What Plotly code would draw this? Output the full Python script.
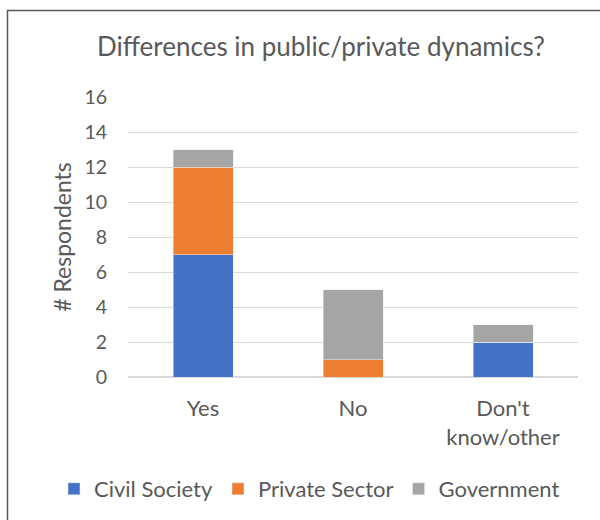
import plotly.graph_objects as go

categories = ["Yes", "No", "Don't<br>know/other"]
civil_society = [7, 0, 2]
private_sector = [5, 1, 0]
government = [1, 4, 1]
y_ticks = [0, 2, 4, 6, 8, 10, 12, 14, 16]

FONT = "Lato"
TXT = "#595959"

fig = go.Figure()
fig.add_trace(go.Bar(name="Civil Society", x=categories, y=civil_society, marker_color="#4472C4"))
fig.add_trace(go.Bar(name="Private Sector", x=categories, y=private_sector, marker_color="#ED7D31"))
fig.add_trace(go.Bar(name="Government", x=categories, y=government, marker_color="#A5A5A5"))

L, R, T, B = 128, 22, 97, 143
W, H = 600, 520
pw, ph = W - L - R, H - T - B

def px_x(p):
    return (p - L) / pw

def px_y(p):
    return (H - B - p) / ph

fig.update_layout(
    width=W, height=H,
    barmode="stack", bargap=0.6,
    paper_bgcolor="white", plot_bgcolor="white",
    margin=dict(l=L, r=R, t=T, b=B, autoexpand=False),
    font=dict(family=FONT, color=TXT, size=20),
    title=dict(text="Differences in public/private dynamics?", x=px_x(321), xref="paper",
               xanchor="center", y=1 - 47 / H, yanchor="middle",
               font=dict(size=26, color=TXT, family=FONT)),
    xaxis=dict(showgrid=False, showline=False, ticks="outside", ticklen=12,
               tickcolor="rgba(0,0,0,0)", tickfont=dict(size=22, color=TXT)),
    yaxis=dict(range=[0, 16], tickvals=y_ticks, showgrid=True, gridcolor="#D9D9D9",
               gridwidth=1, zeroline=True, zerolinecolor="#D9D9D9", showline=False,
               ticks="outside", ticklen=16, tickcolor="rgba(0,0,0,0)",
               tickfont=dict(size=19.5, color=TXT),
               title=dict(text="# Respondents", font=dict(size=23, color=TXT), standoff=6)),
    legend=dict(orientation="h", xref="paper", yref="paper",
                x=px_x(54), xanchor="left", y=px_y(489), yanchor="middle",
                font=dict(size=22, color=TXT), traceorder="normal", itemwidth=30),
    shapes=[dict(type="rect", xref="paper", yref="paper",
                 x0=px_x(7.5), x1=px_x(620), y0=px_y(560), y1=px_y(10.5),
                 line=dict(color="#595959", width=1.5), fillcolor="rgba(0,0,0,0)", layer="below")],
)

fig.write_html("out.html", config={"displayModeBar": False},
               post_script="document.body.style.margin='0';")
